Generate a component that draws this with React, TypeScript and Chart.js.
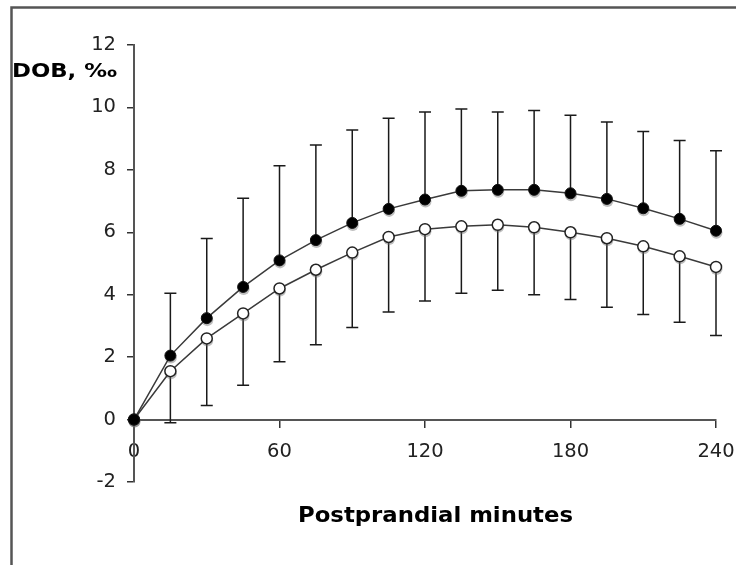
import React, { useEffect, useRef } from "react";
import { Chart, registerables } from "chart.js";

Chart.register(...registerables);

const minutes = [0, 15, 30, 45, 60, 75, 90, 105, 120, 135, 150, 165, 180, 195, 210, 225, 240];
const filledMean = [0, 2.05, 3.25, 4.25, 5.1, 5.75, 6.3, 6.75, 7.05, 7.33, 7.36, 7.36, 7.25, 7.07, 6.77, 6.43, 6.05];
const filledUpper = [0, 4.05, 5.8, 7.09, 8.13, 8.8, 9.28, 9.65, 9.85, 9.95, 9.85, 9.9, 9.75, 9.53, 9.23, 8.94, 8.61];
const openMean = [0, 1.55, 2.6, 3.4, 4.2, 4.8, 5.35, 5.85, 6.1, 6.19, 6.24, 6.16, 6.0, 5.81, 5.55, 5.23, 4.89];
const openLower = [0, -0.1, 0.45, 1.1, 1.85, 2.4, 2.95, 3.45, 3.8, 4.05, 4.14, 4.0, 3.85, 3.6, 3.37, 3.12, 2.69];
const xTicks = [0, 60, 120, 180, 240];
const yLabel = "DOB, ‰";
const xLabel = "Postprandial minutes";

const FONT = "'DejaVu Sans', Verdana, sans-serif";

const errorBarPlugin = {
  id: "errorBars",
  beforeDatasetsDraw(chart: any) {
    const { ctx } = chart;
    const xs = chart.scales.x;
    const ys = chart.scales.y;
    const cap = 6;
    ctx.save();
    ctx.strokeStyle = "#1a1a1a";
    ctx.lineWidth = 1.5;
    const bar = (m: number, a: number, b: number) => {
      const px = xs.getPixelForValue(m);
      const pa = ys.getPixelForValue(a);
      const pb = ys.getPixelForValue(b);
      ctx.beginPath();
      ctx.moveTo(px, pa);
      ctx.lineTo(px, pb);
      ctx.moveTo(px - cap, pb);
      ctx.lineTo(px + cap, pb);
      ctx.stroke();
    };
    minutes.forEach((m, i) => {
      if (i === 0) return;
      bar(m, filledMean[i], filledUpper[i]);
      bar(m, openMean[i], openLower[i]);
    });
    ctx.fillStyle = "rgba(110,110,110,0.45)";
    const halo = (m: number, v: number) => {
      ctx.beginPath();
      ctx.arc(xs.getPixelForValue(m) + 0.5, ys.getPixelForValue(v) + 2, 6, 0, Math.PI * 2);
      ctx.fill();
    };
    minutes.forEach((m, i) => {
      halo(m, filledMean[i]);
      halo(m, openMean[i]);
    });
    ctx.restore();
  },
};

const drawStretched = (ctx: CanvasRenderingContext2D, text: string, x: number, y: number, width: number) => {
  const w = ctx.measureText(text).width;
  ctx.save();
  ctx.translate(x, y);
  ctx.scale(width / w, 1);
  ctx.textAlign = "left";
  ctx.fillText(text, 0, 0);
  ctx.restore();
};

const decorPlugin = {
  id: "decor",
  afterDraw(chart: any) {
    const { ctx } = chart;
    ctx.save();
    ctx.strokeStyle = "#555";
    ctx.lineWidth = 2.5;
    ctx.beginPath();
    ctx.moveTo(11.5, 566);
    ctx.lineTo(11.5, 7.5);
    ctx.lineTo(737, 7.5);
    ctx.stroke();
    ctx.fillStyle = "#000";
    ctx.textBaseline = "middle";
    ctx.font = `bold 19.5px ${FONT}`;
    drawStretched(ctx, yLabel, 12, 72, 105);
    ctx.font = `bold 21px ${FONT}`;
    drawStretched(ctx, xLabel, 298, 517, 275);
    ctx.restore();
  },
};

export default function App() {
  const ref = useRef<HTMLCanvasElement>(null);
  useEffect(() => {
    if (!ref.current) return;
    const chart = new Chart(ref.current, {
      type: "line",
      data: {
        datasets: [
          {
            data: minutes.map((m, i) => ({ x: m, y: filledMean[i] })),
            borderColor: "#3a3a3a",
            borderWidth: 1.5,
            pointRadius: 5.5,
            pointBackgroundColor: "#000",
            pointBorderColor: "#111",
            pointBorderWidth: 1,
            tension: 0,
            clip: false as any,
          },
          {
            data: minutes.map((m, i) => ({ x: m, y: openMean[i] })),
            borderColor: "#3a3a3a",
            borderWidth: 1.5,
            pointRadius: 5.5,
            pointBackgroundColor: "#fff",
            pointBorderColor: "#222",
            pointBorderWidth: 1.5,
            tension: 0,
            clip: false as any,
          },
        ],
      },
      options: {
        responsive: false,
        animation: false,
        layout: { padding: { left: 0, right: 20, top: 45, bottom: 83 } },
        plugins: { legend: { display: false }, tooltip: { enabled: false } },
        scales: {
          x: {
            type: "linear",
            position: { y: 0 } as any,
            min: 0,
            max: 240,
            afterBuildTicks: (s: any) => {
              s.ticks = xTicks.map((v) => ({ value: v }));
            },
            afterFit: (s: any) => {
              s.paddingLeft = 0;
              s.paddingRight = 0;
            },
            ticks: { color: "#222", font: { family: FONT, size: 19.5 }, padding: 14, maxRotation: 0 },
            grid: { drawOnChartArea: false, drawTicks: true, tickLength: 7, color: "#333", lineWidth: 1.5 },
            border: { display: true, color: "#555", width: 2 },
          },
          y: {
            type: "linear",
            min: -2,
            max: 12,
            afterFit: (s: any) => {
              s.width = 134;
              s.paddingTop = 0;
              s.paddingBottom = 0;
            },
            ticks: { stepSize: 2, color: "#222", font: { family: FONT, size: 19.5 }, padding: 11 },
            grid: { drawOnChartArea: false, drawTicks: true, tickLength: 7, color: "#333", lineWidth: 1.5 },
            border: { display: true, color: "#555", width: 2 },
          },
        },
      },
      plugins: [errorBarPlugin, decorPlugin],
    });
    return () => chart.destroy();
  }, []);
  return (
    <div style={{ position: "absolute", left: 0, top: 0, width: 736, height: 565, background: "#fff" }}>
      <canvas ref={ref} width={736} height={565} />
    </div>
  );
}
